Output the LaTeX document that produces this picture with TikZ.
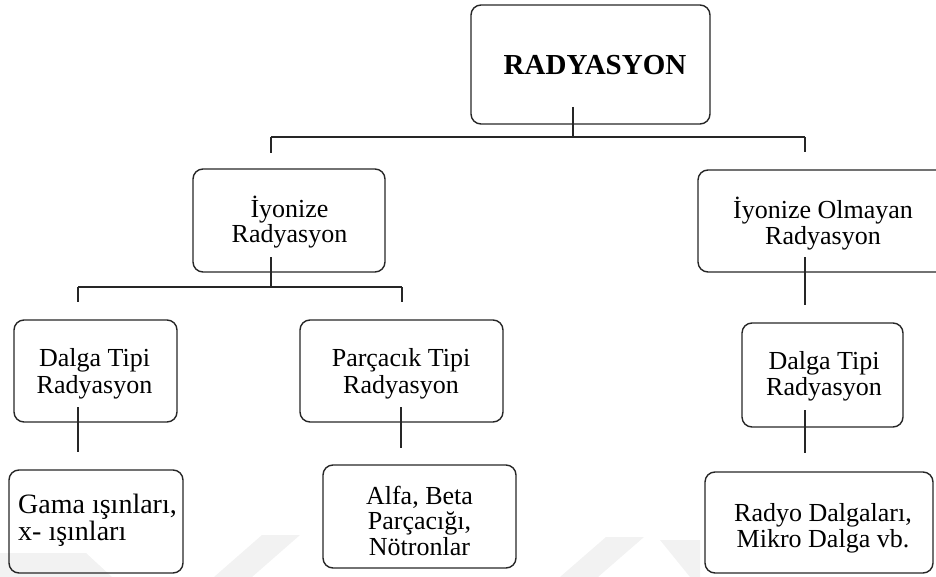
\documentclass[tikz,border=0pt]{standalone}
\usepackage{fontspec}
\setmainfont{Liberation Serif}
\begin{document}
\begin{tikzpicture}[x=1pt,y=-1pt,
  box/.style={draw=black!85,line width=1.4pt,rounded corners=10pt,inner sep=0pt},
  txt/.style={anchor=base,inner sep=0pt,align=center,font=\fontsize{26}{25.5}\selectfont},
  wire/.style={draw=black!85,line width=1.3pt}]
\useasboundingbox (0,0) rectangle (936,577);
\clip (0,0) rectangle (936,577);

% faint background marks along the lower edge
\fill[black!5] (0,553) -- (86,553) -- (112,577) -- (0,577) -- cycle;
\fill[black!5] (214,577) -- (262,535) -- (300,535) -- (252,577) -- cycle;
\fill[black!5] (560,577) -- (606,537) -- (644,537) -- (598,577) -- cycle;
\fill[black!5] (660,540) -- (700,540) -- (700,577) -- (690,577) -- cycle;

% boxes
\node[box,minimum width=239pt,minimum height=119pt] (root) at (590.5,64.5) {};
\node[box,minimum width=192pt,minimum height=103pt] (ion) at (289,220.5) {};
\node[box,minimum width=250pt,minimum height=102pt] (nonion) at (823,221) {};
\node[box,minimum width=163pt,minimum height=102pt] (waveL) at (95.5,371) {};
\node[box,minimum width=203pt,minimum height=102pt] (part) at (401.5,371) {};
\node[box,minimum width=161pt,minimum height=104pt] (waveR) at (822.5,375) {};
\node[box,minimum width=174pt,minimum height=103pt] (gamma) at (96,521.5) {};
\node[box,minimum width=193pt,minimum height=103pt] (alpha) at (419.5,516.5) {};
\node[box,minimum width=228pt,minimum height=101pt] (radio) at (819,522.5) {};

% box texts (placed on the baseline of their last line)
\node[txt,font=\fontsize{29}{30}\selectfont\bfseries] (rootT) at (595,75) {RADYASYON};
\node[txt] (ionT) at (289.5,243) {İyonize\\Radyasyon};
\node[txt] (nonionT) at (823,244) {İyonize Olmayan\\Radyasyon};
\node[txt,font=\fontsize{26}{26.5}\selectfont] (waveLT) at (94.5,393) {Dalga Tipi\\Radyasyon};
\node[txt,font=\fontsize{26}{26.5}\selectfont] (partT) at (401,393) {Parçacık Tipi\\Radyasyon};
\node[txt] (waveRT) at (824,395) {Dalga Tipi\\Radyasyon};
\node[txt,anchor=base west,align=left,font=\fontsize{28}{27}\selectfont] (gammaT) at (18,540)
  {Gama ışınları,\\x- ışınları};
\node[txt] (alphaT) at (419.5,555) {Alfa, Beta\\Parçacığı,\\Nötronlar};
\node[txt] (radioT) at (823,547) {Radyo Dalgaları,\\Mikro Dalga vb.};

% connector points
\coordinate (rootTail) at (573,107);
\coordinate (busA) at (573,137);
\coordinate (busAL) at (271,137);
\coordinate (busAR) at (805,137);
\coordinate (ionIn) at (271,153);
\coordinate (nonIn) at (805,152);
\coordinate (ionTail) at (271,257);
\coordinate (busB) at (271,287);
\coordinate (busBL) at (78,287);
\coordinate (busBR) at (402,287);
\coordinate (waveLIn) at (78,302);
\coordinate (partIn) at (402,302);
\coordinate (waveLTail) at (78,407);
\coordinate (gammaIn) at (78,452);
\coordinate (partTail) at (401,407);
\coordinate (alphaIn) at (401,448);
\coordinate (nonTail) at (805,257);
\coordinate (waveRIn) at (805,305);
\coordinate (waveRTail) at (805,410);
\coordinate (radioIn) at (805,453);

% connectors
\draw[wire] (rootTail) -- (busA);
\draw[wire] (busAL) -- (busAR);
\draw[wire] (busAL) -- (ionIn);
\draw[wire] (busAR) -- (nonIn);
\draw[wire] (ionTail) -- (busB);
\draw[wire] (busBL) -- (busBR);
\draw[wire] (busBL) -- (waveLIn);
\draw[wire] (busBR) -- (partIn);
\draw[wire] (waveLTail) -- (gammaIn);
\draw[wire] (partTail) -- (alphaIn);
\draw[wire] (nonTail) -- (waveRIn);
\draw[wire] (waveRTail) -- (radioIn);
\end{tikzpicture}
\end{document}
